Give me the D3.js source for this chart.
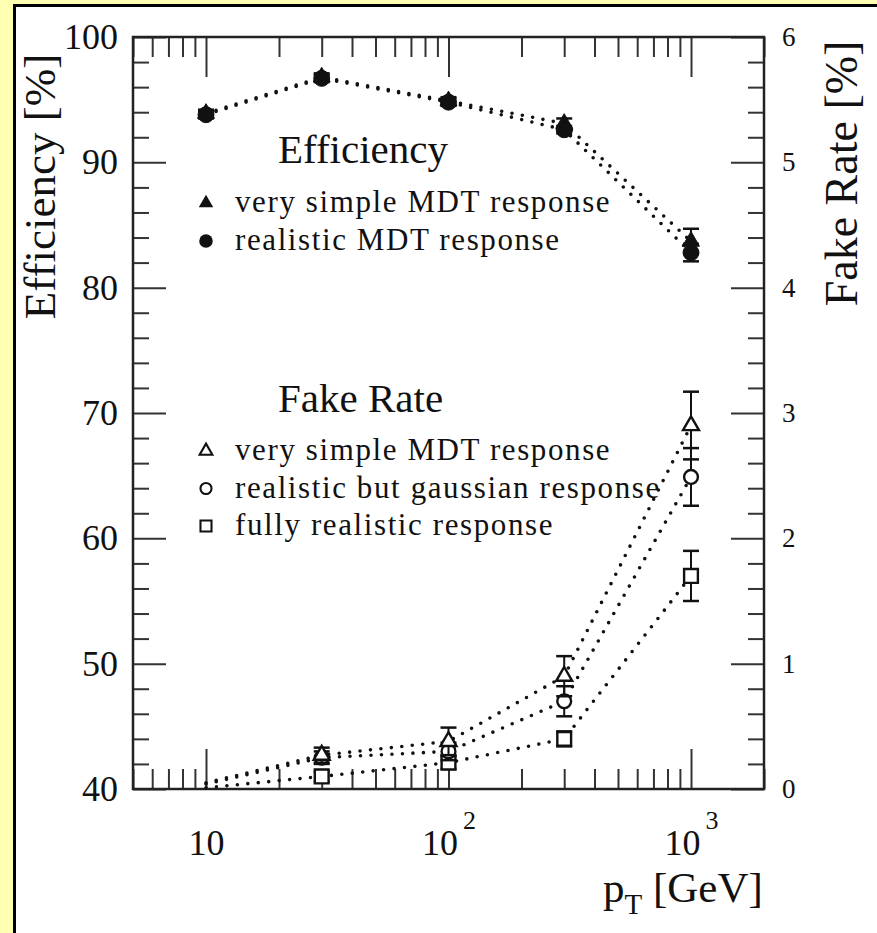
<!DOCTYPE html>
<html>
<head>
<meta charset="utf-8">
<script src="https://cdn.jsdelivr.net/npm/d3@7"></script>
<style>
  html, body { margin: 0; padding: 0; background: #fff; }
  svg { display: block; }
  text { font-family: "Liberation Serif", "DejaVu Serif", serif; fill: #111; }
</style>
</head>
<body>
<svg id="chart" width="877" height="933"></svg>
<script>
// transverse momentum points [GeV]
const pT = [10, 30, 100, 300, 1000];

// efficiency [%] (left axis)
const effSimple = [93.9, 96.8, 94.9, 93.1, 83.7];
const effSimpleErr = [0.3, 0.3, 0.3, 0.4, 1.0];
const effRealistic = [93.8, 96.7, 94.8, 92.6, 82.8];
const effRealisticErr = [0.3, 0.3, 0.3, 0.3, 0.7];

// fake rate [%] (right axis); a null error means the point has no marker
const fakeSimple = [0.05, 0.27, 0.38, 0.90, 2.90];
const fakeSimpleErr = [null, 0.06, 0.11, 0.16, 0.27];
const fakeGauss = [0.04, 0.25, 0.30, 0.70, 2.49];
const fakeGaussErr = [null, 0.05, 0.07, 0.12, 0.23];
const fakeReal = [0.01, 0.10, 0.21, 0.40, 1.70];
const fakeRealErr = [null, 0.04, 0.05, 0.06, 0.20];

// axis ticks
const leftMajor = [40, 50, 60, 70, 80, 90, 100];
const rightMajor = [0, 1, 2, 3, 4, 5, 6];
const xMajor = [10, 100, 1000];
const xMajorLabels = [["10", ""], ["10", "2"], ["10", "3"]];

const legendEff = ["very simple MDT response", "realistic MDT response"];
const legendFake = ["very simple MDT response", "realistic but gaussian response", "fully realistic response"];

const svg = d3.select("#chart");
const W = 877, H = 933;

// page frame
svg.append("rect").attr("width", W).attr("height", H).attr("fill", "#ffffb4");
svg.append("rect").attr("x", 13).attr("y", 4).attr("width", W).attr("height", H).attr("fill", "#000");
svg.append("rect").attr("x", 16).attr("y", 7).attr("width", W).attr("height", H).attr("fill", "#fff");

const L = 133, R = 764, T = 37, B = 789;
const x = d3.scaleLog().domain([5, 2000]).range([L, R]);
const yL = d3.scaleLinear().domain([40, 100]).range([B, T]);
const yR = d3.scaleLinear().domain([0, 6]).range([B, T]);

const xMinor = [];
for (let d = 1; d <= 1000; d *= 10)
  for (let m = 2; m <= 9; m++) {
    const v = m * d;
    if (v >= 5 && v <= 2000 && !xMajor.includes(v)) xMinor.push(v);
  }
const leftMinor = d3.range(40, 100.001, 2).filter(v => v % 10 !== 0);
const rightMinor = d3.range(0, 6.001, 0.2).map(v => +v.toFixed(1)).filter(v => Math.abs(v - Math.round(v)) > 1e-6);

function styleAxis(g) {
  g.select(".domain").remove();
  g.selectAll(".tick line").attr("stroke", "#333").attr("stroke-width", 2);
}

// minor ticks
svg.append("g").attr("transform", `translate(0,${B})`)
  .call(d3.axisBottom(x).tickValues(xMinor).tickSizeInner(-20).tickSizeOuter(0).tickFormat(""))
  .call(styleAxis);
svg.append("g").attr("transform", `translate(0,${T})`)
  .call(d3.axisTop(x).tickValues(xMinor).tickSizeInner(-20).tickSizeOuter(0).tickFormat(""))
  .call(styleAxis);
svg.append("g").attr("transform", `translate(${L},0)`)
  .call(d3.axisLeft(yL).tickValues(leftMinor).tickSizeInner(-16).tickSizeOuter(0).tickFormat(""))
  .call(styleAxis);
svg.append("g").attr("transform", `translate(${R},0)`)
  .call(d3.axisRight(yR).tickValues(rightMinor).tickSizeInner(-16).tickSizeOuter(0).tickFormat(""))
  .call(styleAxis);

// major ticks and labels
const xAx = svg.append("g").attr("transform", `translate(0,${B})`)
  .call(d3.axisBottom(x).tickValues(xMajor).tickSizeInner(-40).tickSizeOuter(0).tickFormat(""))
  .call(styleAxis);
xAx.selectAll(".tick text").each(function (d, i) {
  const t = d3.select(this).attr("font-size", 36).attr("text-anchor", "middle").attr("dy", "0").attr("y", 66);
  t.append("tspan").text(xMajorLabels[i][0]);
  if (xMajorLabels[i][1]) t.append("tspan").attr("font-size", 26).attr("dx", 5).attr("dy", -26).text(xMajorLabels[i][1]);
});
svg.append("g").attr("transform", `translate(0,${T})`)
  .call(d3.axisTop(x).tickValues(xMajor).tickSizeInner(-40).tickSizeOuter(0).tickFormat(""))
  .call(styleAxis);
svg.append("g").attr("transform", `translate(${L},0)`)
  .call(d3.axisLeft(yL).tickValues(leftMajor).tickSizeInner(-33).tickSizeOuter(0).tickPadding(15).tickFormat(d3.format("d")))
  .call(styleAxis)
  .call(g => g.selectAll(".tick text").attr("font-size", 36).attr("font-family", "Liberation Serif, serif").attr("fill", "#111"));
svg.append("g").attr("transform", `translate(${R},0)`)
  .call(d3.axisRight(yR).tickValues(rightMajor).tickSizeInner(-33).tickSizeOuter(0).tickPadding(18).tickFormat(d3.format("d")))
  .call(styleAxis)
  .call(g => g.selectAll(".tick text").attr("font-size", 27).attr("font-family", "Liberation Serif, serif").attr("fill", "#111"));

// plot frame
svg.append("rect").attr("x", L).attr("y", T).attr("width", R - L).attr("height", B - T)
  .attr("fill", "none").attr("stroke", "#222").attr("stroke-width", 2.5);

// axis titles
svg.append("text").attr("transform", `translate(55,${(T + 330) / 2 + 3}) rotate(-90)`)
  .attr("text-anchor", "middle").attr("font-size", 45).text("Efficiency [%]");
svg.append("text").attr("transform", `translate(857,${(35 + 312) / 2}) rotate(-90)`)
  .attr("text-anchor", "middle").attr("font-size", 46).text("Fake Rate [%]");
const xt = svg.append("text").attr("x", 603).attr("y", 902).attr("font-size", 43);
xt.append("tspan").text("p");
xt.append("tspan").attr("font-size", 29).attr("dy", 12).text("T");
xt.append("tspan").attr("dy", -12).text(" [GeV]");

// dotted connecting lines
const dotted = g => g.attr("fill", "none").attr("stroke", "#111").attr("stroke-width", 3.6)
  .attr("stroke-linecap", "round").attr("stroke-dasharray", "0 10.5");
function drawLine(vals, y) {
  const line = d3.line().x((d, i) => x(pT[i])).y(d => y(d));
  svg.append("path").datum(vals).attr("d", line).call(dotted);
}
drawLine(effSimple, yL);
drawLine(effRealistic, yL);
drawLine(fakeSimple, yR);
drawLine(fakeGauss, yR);
drawLine(fakeReal, yR);

// markers with error bars
const sym = {
  triF: d3.symbol(d3.symbolTriangle, 125),
  cirF: d3.symbol(d3.symbolCircle, 200),
  triO: d3.symbol(d3.symbolTriangle, 110),
  cirO: d3.symbol(d3.symbolCircle, 150),
  sqO: d3.symbol(d3.symbolSquare, 190)
};
function drawSeries(vals, errs, y, shape, filled) {
  const g = svg.append("g");
  vals.forEach((v, i) => {
    if (errs[i] === null) return;
    const cx = x(pT[i]);
    const y1 = y(v + errs[i]), y0 = y(v - errs[i]);
    g.append("line").attr("x1", cx).attr("x2", cx).attr("y1", y1).attr("y2", y0).attr("stroke", "#111").attr("stroke-width", 2);
    [y1, y0].forEach(yy => g.append("line").attr("x1", cx - 8).attr("x2", cx + 8).attr("y1", yy).attr("y2", yy)
      .attr("stroke", "#111").attr("stroke-width", 2.5));
    g.append("path").attr("d", sym[shape]()).attr("transform", `translate(${cx},${y(v)})`)
      .attr("fill", filled ? "#111" : "#fff").attr("stroke", "#111").attr("stroke-width", filled ? 1 : 2.4);
  });
}
drawSeries(effSimple, effSimpleErr, yL, "triF", true);
drawSeries(effRealistic, effRealisticErr, yL, "cirF", true);
drawSeries(fakeReal, fakeRealErr, yR, "sqO", false);
drawSeries(fakeGauss, fakeGaussErr, yR, "cirO", false);
drawSeries(fakeSimple, fakeSimpleErr, yR, "triO", false);

// legends
svg.append("text").attr("x", 278).attr("y", 163).attr("font-size", 41).text("Efficiency");
const effShapes = ["triF", "cirF"];
legendEff.forEach((s, i) => {
  const yy = 212 + i * 38;
  svg.append("path").attr("d", sym[effShapes[i]]()).attr("transform", `translate(206,${yy - 9}) scale(0.85)`)
    .attr("fill", "#111");
  svg.append("text").attr("x", 235).attr("y", yy).attr("font-size", 31).attr("letter-spacing", 1.6).text(s);
});
svg.append("text").attr("x", 278).attr("y", 412).attr("font-size", 41).text("Fake Rate");
const fakeShapes = ["triO", "cirO", "sqO"];
legendFake.forEach((s, i) => {
  const yy = 460 + i * 37.5;
  svg.append("path").attr("d", sym[fakeShapes[i]]()).attr("transform", `translate(206,${yy - 9}) scale(0.8)`)
    .attr("fill", "#fff").attr("stroke", "#111").attr("stroke-width", 2.6);
  svg.append("text").attr("x", 235).attr("y", yy).attr("font-size", 31).attr("letter-spacing", 1.6).text(s);
});
</script>
</body>
</html>
